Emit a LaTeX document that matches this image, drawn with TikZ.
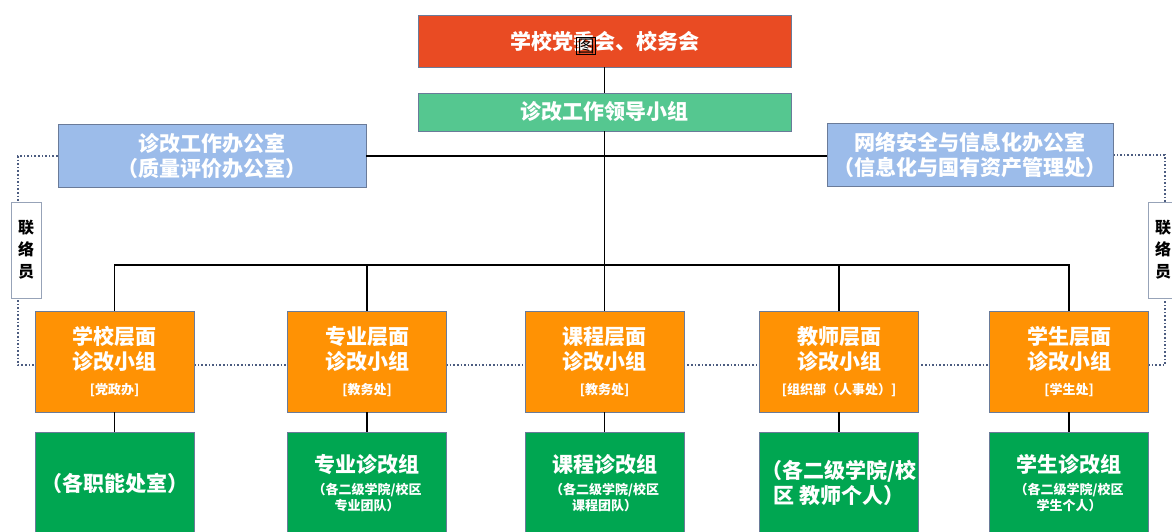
\documentclass[tikz,border=0pt]{standalone}
\usepackage{fontspec}
\setmainfont{Noto Sans CJK SC}
\usetikzlibrary{backgrounds}
\definecolor{boardred}{HTML}{E94B23}
\definecolor{leadgreen}{HTML}{55C790}
\definecolor{officeblue}{HTML}{9CBCEA}
\definecolor{levelorange}{HTML}{FF9204}
\definecolor{teamgreen}{HTML}{00A651}
\definecolor{boxline}{HTML}{6A7B99}
\definecolor{dotblue}{HTML}{4C5C80}
\newcommand{\bigtxt}{\fontsize{21}{25}\selectfont}
\newcommand{\smalltxt}{\fontsize{13}{15}\selectfont}
\begin{document}
\begin{tikzpicture}[x=1pt, y=-1pt,
    box/.style={draw=boxline, line width=0.8pt, text=white, align=center, inner sep=0pt,
      font=\bfseries\bigtxt},
    level/.style={box, fill=levelorange, minimum width=159, minimum height=101},
    team/.style={box, fill=teamgreen, minimum width=159, minimum height=102},
    office/.style={box, fill=officeblue, minimum height=63},
    liaison/.style={draw=boxline!70, fill=white, line width=0.8pt, align=center, inner sep=0pt,
      minimum width=30, minimum height=96, font=\bfseries\fontsize{16}{22}\selectfont},
    link/.style={line width=1.6pt, black},
    dotline/.style={dotted, line width=1.6pt, dotblue}]
  \useasboundingbox (0,0) rectangle (1172,532);

  \node[box, fill=boardred, minimum width=373, minimum height=52] (board) at (604.5,41) {学校党委会、校务会};
  \node[draw=black, line width=0.6pt, inner sep=1pt, font=\fontsize{17}{17}\selectfont] (glyph) at (586,46) {图};
  \node[box, fill=leadgreen, minimum width=373, minimum height=38] (lead) at (604.5,112) {诊改工作领导小组};

  \node[office, minimum width=308] (office) at (212,156) {诊改工作办公室\\（质量评价办公室）};
  \node[office, minimum width=286] (net) at (970,155) {网络安全与信息化办公室\\（信息化与国有资产管理处）};

  \node[level] (school) at (114.5,361.5) {学校层面\\诊改小组\\{\smalltxt [党政办]}};
  \node[level] (major) at (367,361.5) {专业层面\\诊改小组\\{\smalltxt [教务处]}};
  \node[level] (course) at (604.5,361.5) {课程层面\\诊改小组\\{\smalltxt [教务处]}};
  \node[level] (teacher) at (839,361.5) {教师层面\\诊改小组\\{\smalltxt [组织部（人事处）]}};
  \node[level] (student) at (1069,361.5) {学生层面\\诊改小组\\{\smalltxt [学生处]}};

  \node[team] (schoolteam) at (114.5,483) {（各职能处室）};
  \node[team] (majorteam) at (367,483) {专业诊改组\\[-3pt]{\smalltxt （各二级学院/校区}\\[-9pt]{\smalltxt 专业团队）}};
  \node[team] (courseteam) at (604.5,483) {课程诊改组\\[-3pt]{\smalltxt （各二级学院/校区}\\[-9pt]{\smalltxt 课程团队）}};
  \node[team] (teacherteam) at (839,483) {（各二级学院/校\\区\ 教师个人）};
  \node[team] (studentteam) at (1069,483) {学生诊改组\\[-3pt]{\smalltxt （各二级学院/校区}\\[-9pt]{\smalltxt 学生个人）}};

  \coordinate (bus) at (604.5,265);
  \coordinate (bendL) at (18,365);
  \coordinate (bendR) at (1165,365);

  \begin{scope}[on background layer]
    \draw[dotline] (office.west) -| (bendL) -- (bendR) |- (net.east);
  \end{scope}
  \node[liaison] (liaisonL) at (26,250) {联\\络\\员};
  \node[liaison] (liaisonR) at (1163,250) {联\\络\\员};

  \draw[link] (board) -- (lead);
  \draw[link] (lead.south) -- (bus);
  \draw[link] (office.east) -- (office.east -| net.west);
  \draw[link] (school.north) |- (student.north |- bus) -- (student.north);
  \draw[link] (major.north) -- (major.north |- bus);
  \draw[link] (bus) -- (course.north);
  \draw[link] (teacher.north) -- (teacher.north |- bus);

  \draw[link] (school) -- (schoolteam);
  \draw[link] (major) -- (majorteam);
  \draw[link] (course) -- (courseteam);
  \draw[link] (teacher) -- (teacherteam);
  \draw[link] (student) -- (studentteam);
\end{tikzpicture}
\end{document}
